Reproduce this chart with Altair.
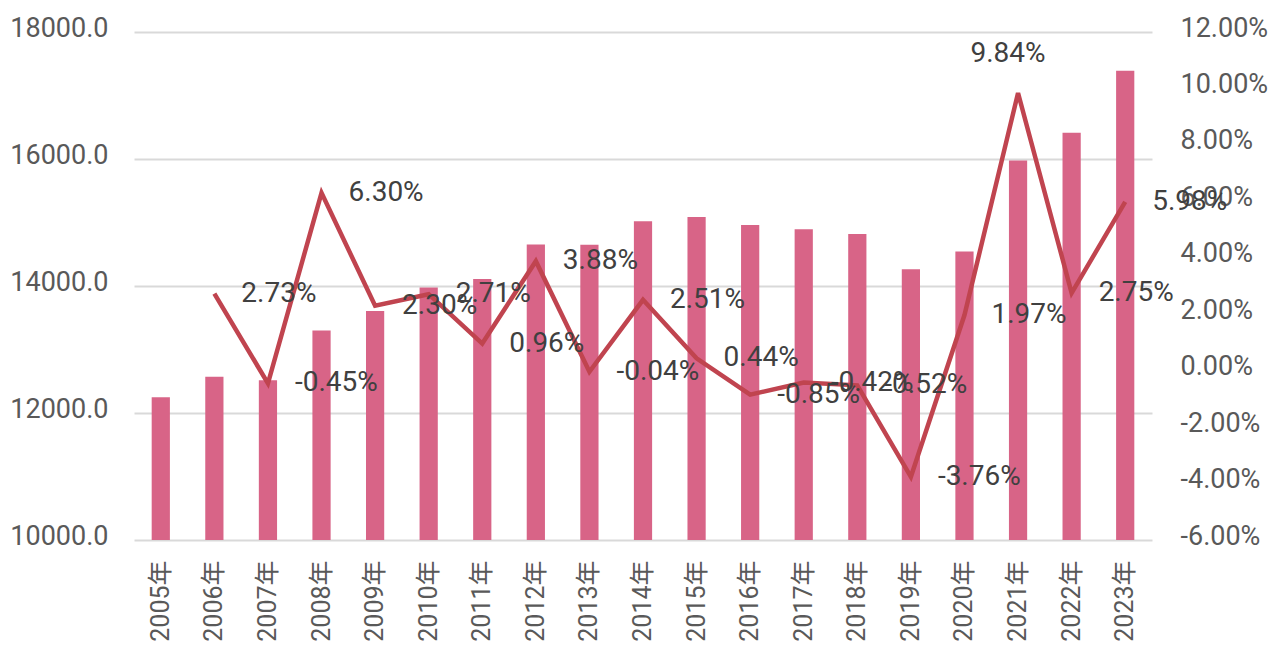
import altair as alt
import pandas as pd

years = [f"{y}年" for y in range(2005, 2024)]
values = [12250, 12570, 12515, 13300, 13605, 13975, 14110, 14655, 14650, 15020,
          15085, 14960, 14895, 14820, 14265, 14545, 15975, 16415, 17390]
rate_years = years[1:]
rates = [2.73, -0.45, 6.30, 2.30, 2.71, 0.96, 3.88, -0.04, 2.51, 0.44,
         -0.85, -0.42, -0.52, -3.76, 1.97, 9.84, 2.75, 5.98]

bars_df = pd.DataFrame({"year": years, "value": values})
line_df = pd.DataFrame({"year": rate_years, "rate": [r / 100 for r in rates],
                        "label": [f"{r:.2f}%" for r in rates]})

FONT = "Roboto, Noto Sans CJK SC"
x = alt.X("year:N", sort=years, title=None,
          scale=alt.Scale(paddingInner=0.66, paddingOuter=0.33),
          axis=alt.Axis(labelAngle=270, labelAlign="right", labelBaseline="middle",
                        labelFontSize=25, labelColor="#595959", labelFont=FONT,
                        ticks=False, domain=False, grid=False, labelPadding=20))

bars = alt.Chart(bars_df).mark_bar(color="#D86487", clip=True).encode(
    x=x,
    y=alt.Y("value:Q", title=None,
            scale=alt.Scale(domain=[10000, 18000], nice=False, zero=False),
            axis=alt.Axis(values=[10000, 12000, 14000, 16000, 18000], format=".1f",
                          labelFontSize=27, labelColor="#595959", labelFont=FONT,
                          ticks=False, domain=False, labelPadding=26, labelOffset=-4,
                          grid=True, gridColor="#D9D9D9", gridWidth=2)),
)

right_axis = alt.Axis(orient="right", values=[-0.06, -0.04, -0.02, 0, 0.02, 0.04, 0.06, 0.08, 0.10, 0.12],
                      format=".2%", labelExpr="replace(datum.label, '\u2212', '-')",
                      labelFontSize=27, labelColor="#595959", labelFont=FONT,
                      ticks=False, domain=False, grid=False, labelPadding=28, labelOffset=-4)
yscale = alt.Scale(domain=[-0.06, 0.12], nice=False, zero=False)

line = alt.Chart(line_df).mark_line(color="#C0444F", strokeWidth=4.5).encode(
    x=alt.X("year:N", sort=years),
    y=alt.Y("rate:Q", title=None, scale=yscale, axis=right_axis))

labels = alt.Chart(line_df).transform_filter(alt.datum.year != "2021年").mark_text(
    align="left", baseline="middle", dx=27, fontSize=28, font=FONT, color="#404040"
).encode(x=alt.X("year:N", sort=years),
         y=alt.Y("rate:Q", title=None, scale=yscale, axis=right_axis),
         text="label:N")

label_top = alt.Chart(line_df).transform_filter(alt.datum.year == "2021年").mark_text(
    align="center", baseline="middle", dx=-10, dy=-39, fontSize=28, font=FONT, color="#404040"
).encode(x=alt.X("year:N", sort=years),
         y=alt.Y("rate:Q", title=None, scale=yscale, axis=right_axis),
         text="label:N")

right = alt.layer(line, labels, label_top)

chart = alt.layer(bars, right).resolve_scale(y="independent").properties(
    width=1018, height=508,
    autosize=alt.AutoSizeParams(type="none"),
    padding={"left": 126, "top": 24, "right": 127, "bottom": 110},
    view=alt.ViewBackground(stroke="transparent", strokeWidth=0),
).configure_view(stroke="transparent", strokeWidth=0).configure_axis(
    domain=False, domainOpacity=0
).configure(background="white")

chart.save("out.html", embed_options={"renderer": "svg", "actions": False})
